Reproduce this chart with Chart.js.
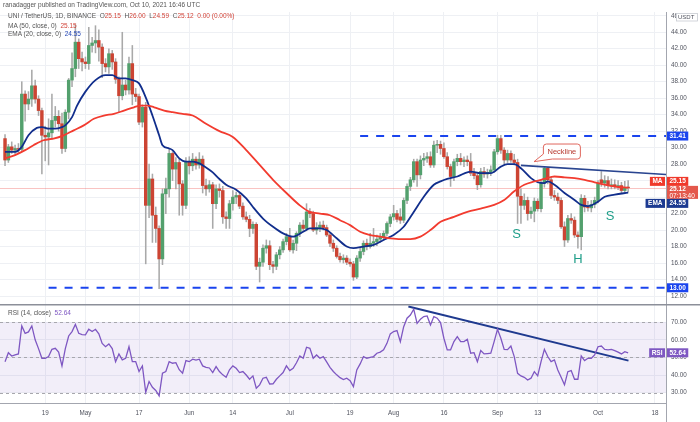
<!DOCTYPE html>
<html><head><meta charset="utf-8">
<script src="https://cdn.jsdelivr.net/npm/chart.js@4.4.0/dist/chart.umd.min.js"></script>
<style>
body{margin:0;background:#fff;width:700px;height:422px;overflow:hidden;position:relative;font-family:'Liberation Sans',Arial,sans-serif;}
#c1{position:absolute;left:0;top:0;}
#c2{position:absolute;left:0;top:304px;}
.t{position:absolute;font-size:6.5px;color:#555;white-space:nowrap;line-height:1;}
.r{color:#d2453a;} .b{color:#2346b5;} .p{color:#7e57c2;}
</style></head><body>
<canvas id="c1" width="700" height="305"></canvas>
<canvas id="c2" width="700" height="118"></canvas>
<div class="t" style="left:3px;top:1.5px">ranadagger published on TradingView.com, Oct 10, 2021 16:46 UTC</div>
<div class="t" style="left:8px;top:12.5px">UNI / TetherUS, 1D, BINANCE&nbsp; O<span class="r">25.15</span>&nbsp; H<span class="r">26.00</span>&nbsp; L<span class="r">24.59</span>&nbsp; C<span class="r">25.12</span>&nbsp; <span class="r">0.00 (0.00%)</span></div>
<div class="t" style="left:8px;top:22.5px">MA (50, close, 0)&nbsp; <span class="r">25.15</span></div>
<div class="t" style="left:8px;top:31px">EMA (20, close, 0)&nbsp; <span class="b">24.55</span></div>
<div class="t" style="left:8px;top:310px">RSI (14, close)&nbsp; <span class="p">52.64</span></div>
<script>
// ---- data (day index 0 = 2021-04-07) ----
const opens  = [31.1,28.5,30.1,29.7,29.9,29.8,36.5,35.3,35.9,37.5,35.9,34.5,31.5,31.3,31.8,33.3,33.8,32.9,29.9,34.3,38.2,39.6,42.8,40.8,40.4,40.2,42.4,42.7,43.0,42.2,40.2,39.8,41.4,40.4,38.3,36.3,37.6,37.0,40.2,36.5,36.2,33.1,34.9,23.0,26.2,21.8,20.2,16.5,24.4,25.0,29.3,27.4,28.2,25.6,23.0,28.3,27.8,28.6,27.9,28.6,25.4,25.0,25.5,23.2,25.0,24.8,21.6,21.4,23.2,24.0,24.2,22.9,21.6,21.3,20.2,20.7,15.6,16.1,17.8,18.1,15.8,15.6,17.0,17.6,18.6,19.2,17.6,18.4,19.6,20.6,20.2,22.2,22.0,20.0,20.3,20.6,20.3,19.4,18.4,17.8,16.8,16.4,16.6,16.1,15.9,14.3,16.6,17.4,18.4,18.0,18.4,18.6,18.9,19.2,19.6,20.8,21.6,22.0,21.6,21.2,23.6,25.3,26.1,28.3,26.7,28.5,28.7,28.9,27.9,30.3,30.4,29.9,28.9,27.7,26.5,28.3,28.7,28.3,28.5,28.3,26.9,26.6,25.5,27.1,26.8,27.0,27.3,29.5,31.1,29.7,28.5,29.3,28.5,28.2,24.1,23.0,23.6,22.0,22.3,23.5,22.6,25.7,27.5,26.1,24.2,24.0,23.6,20.4,18.8,21.4,21.2,19.4,19.2,23.85,22.8,22.7,23.1,23.6,26.1,25.7,26.0,25.4,25.5,25.3,25.4,24.8,25.15];
const highs  = [31.6,30.4,30.7,30.3,30.5,38.0,36.9,36.8,39.4,38.2,36.3,34.8,32.6,33.5,36.5,35.0,34.5,34.2,34.6,38.4,41.5,44.9,43.2,41.6,41.0,44.6,43.4,44.8,44.3,42.6,40.8,42.0,41.8,40.8,38.6,44.0,38.2,41.0,42.4,37.2,36.5,35.2,35.5,28.0,26.8,22.8,20.5,25.0,26.3,29.9,29.5,28.8,28.6,26.0,28.8,28.9,29.3,28.9,29.4,29.0,26.2,26.0,25.8,25.5,25.6,25.3,22.2,23.6,24.8,24.6,24.5,23.3,22.2,21.8,21.0,20.9,16.6,18.2,18.8,18.7,16.2,17.3,18.0,18.9,19.6,20.2,18.8,19.8,20.9,21.2,23.2,22.6,22.3,20.9,21.0,21.1,20.6,19.7,18.8,18.1,17.2,17.0,16.9,16.5,16.2,16.9,17.8,18.7,18.9,19.6,20.2,19.4,19.6,19.9,21.0,21.9,23.0,22.4,22.6,23.9,25.6,26.4,28.6,28.6,29.0,29.3,29.4,29.5,30.8,30.9,30.8,30.6,29.4,28.0,28.6,29.2,29.3,28.9,29.0,29.3,27.5,27.0,27.5,27.6,27.4,27.8,29.8,31.5,31.5,30.0,29.7,29.6,29.2,28.6,25.0,24.4,24.0,22.8,23.9,23.8,26.0,27.6,27.6,26.4,24.8,24.5,23.9,21.0,21.8,22.0,21.6,19.8,24.3,24.2,23.5,23.6,24.0,26.0,27.1,26.6,26.5,26.2,26.1,26.0,25.8,25.9,26.00];
const lows   = [27.8,28.2,29.3,29.2,29.4,29.5,33.2,34.6,35.0,35.4,33.9,26.8,28.4,27.9,31.0,32.5,32.0,29.3,29.5,33.5,37.4,38.6,39.6,39.3,39.6,39.5,41.6,41.5,40.5,38.5,39.2,39.0,39.5,37.8,34.3,35.8,36.4,36.5,35.2,35.6,32.8,32.5,15.9,21.5,18.5,18.5,12.9,15.8,22.0,24.0,26.0,25.0,21.8,21.8,22.6,26.8,27.2,27.4,27.5,24.5,24.2,24.6,20.2,22.6,24.0,20.8,20.2,20.2,22.4,23.2,22.6,21.3,21.0,19.2,19.6,15.2,13.7,15.6,17.2,15.2,14.8,15.2,16.5,17.3,18.2,17.4,17.2,17.5,19.2,19.8,19.9,21.5,19.8,19.5,19.8,20.0,19.2,18.0,17.4,16.6,16.1,16.0,15.8,15.6,13.9,14.1,16.2,17.0,17.6,17.8,18.0,18.1,18.5,18.8,19.3,20.4,21.2,21.0,20.8,20.9,23.2,24.8,25.8,25.3,26.2,27.8,28.2,27.6,27.6,29.4,29.2,28.7,27.4,25.3,26.0,27.8,27.9,27.7,27.8,26.6,26.2,24.9,25.2,26.4,26.3,26.6,27.0,29.2,29.3,28.0,28.2,28.2,27.9,20.8,20.8,22.5,21.2,21.4,21.0,22.3,22.2,25.2,25.6,23.8,23.6,23.2,20.2,18.0,18.5,20.8,19.1,17.8,17.6,22.2,22.3,22.2,22.7,23.3,25.3,25.2,25.0,25.0,25.0,24.9,24.5,24.6,24.59];
const closes = [28.5,30.1,29.7,29.9,29.8,36.5,35.3,35.9,37.5,35.9,34.5,31.5,31.3,31.8,33.3,33.8,32.9,29.9,34.3,38.2,39.6,42.8,40.8,40.4,40.2,42.4,42.7,43.0,42.2,40.2,39.8,41.4,40.4,38.3,36.3,37.6,37.0,40.2,36.5,36.2,33.1,34.9,23.0,26.2,21.8,20.2,16.5,24.4,25.0,29.3,27.4,28.2,25.6,23.0,28.3,27.8,28.6,27.9,28.6,25.4,25.0,25.5,23.2,25.0,24.8,21.6,21.4,23.2,24.0,24.2,22.9,21.6,21.3,20.2,20.7,15.6,16.1,17.8,18.1,15.8,15.6,17.0,17.6,18.6,19.2,17.6,18.4,19.6,20.6,20.2,22.2,22.0,20.0,20.3,20.6,20.3,19.4,18.4,17.8,16.8,16.4,16.6,16.1,15.9,14.3,16.6,17.4,18.4,18.0,18.4,18.6,18.9,19.2,19.6,20.8,21.6,22.0,21.3,21.2,23.6,25.3,26.1,28.3,26.7,28.5,28.7,28.9,27.9,30.3,30.4,29.9,28.9,27.7,26.5,28.3,28.7,28.3,28.5,28.3,26.9,26.6,25.5,27.1,26.8,27.0,27.3,29.5,31.1,29.7,28.5,29.3,28.5,28.2,24.1,23.0,23.6,22.0,22.3,23.5,22.6,25.7,27.5,26.1,24.2,24.0,23.6,20.4,18.8,21.4,21.2,19.4,19.2,23.85,22.8,22.7,23.1,23.6,25.7,25.7,26.0,25.4,25.5,25.3,25.4,24.8,25.15,25.12];

const maDays    = [0,3,6,8.5,11.5,14.5,17.5,20.5,23.5,26.5,29.5,32.5,35.5,38.5,40.5,42.5,44.5,47.5,50,53,56,60,64,68,72,76,80,84,88,91,94,97,100,103,106,109,112,115,118,121,124,127,130,134,138,142,146,149,152,155,158,161,164,167,170,173,176,179,182,186];
const maValues  = [28.7,29.1,29.7,30.3,30.9,31.1,31.5,32.1,32.7,33.5,33.9,34.1,34.5,34.9,35.1,35.1,34.9,34.5,34.3,34.1,33.9,32.9,32.0,31.3,29.7,27.9,26.1,24.5,23.0,22.2,22.0,21.8,21.2,20.6,19.8,19.4,19.2,19.0,18.9,18.9,19.2,20.0,21.0,21.6,22.2,22.6,23.05,23.65,24.7,25.5,25.9,26.2,26.5,26.4,26.3,26.1,25.8,25.5,25.27,25.15];
const emaDays   = [0,3,5,7,9.5,11,13,15,17,18,20,21.5,24,27,30,32,34,36,38,40,42,44,46,47,49,50,52,54,56,58,60,62,64,66,69,72,74,77,80,83,86,89,91,94,96,99,102,104,107,110,113,116,119,122,125,128,130,132,135,139,142,145,148,150,152,154,157,159,161,162,164,167,170,172,174,177,179,182,186];
const emaValues = [29.5,29.5,30.1,31.5,32.4,32.5,32.3,32.3,32.5,32.7,33.7,35.1,36.8,38.2,38.8,38.8,38.4,38.4,38.2,37.8,36.1,33.9,31.5,30.3,29.9,29.7,28.7,28.3,28.3,28.1,27.6,27.0,26.2,25.5,24.9,23.85,22.8,21.4,20.4,19.6,19.2,19.8,20.2,20.2,20.0,19.0,18.0,17.8,18.0,18.2,18.8,19.4,20.4,22.2,24.05,25.5,25.9,26.2,26.5,27.1,26.9,26.9,27.7,28.0,28.0,27.5,26.3,25.8,25.7,25.9,25.5,24.5,23.65,23.05,22.9,23.45,24.05,24.3,24.55];

const rsiValues = [47.6,52.7,50.8,51.5,52,67.9,63.7,64.5,67.9,60,55,49.5,49.5,50.5,54.6,55.2,53,45.2,55,62.2,64.7,68.8,63.7,63,62.8,66,64.7,66,63.4,58,56.1,57.7,55,47.6,52,48.6,49.5,56.1,47.6,47.6,42,45.2,30.2,36.3,33,31.2,28.1,41,42,47.6,46.7,47,43,41,48.2,47.6,49,48.5,49,45.2,44.4,44,41.4,44.8,42,40.1,38.7,43,45.2,43.8,41.4,42,40,37.6,39.5,32.5,34.4,38.2,38.7,34.9,35,37.6,39.5,41.4,45.2,42.5,43.8,47,50.8,49.5,55.8,55.2,49.5,51.4,49.5,50.5,47.5,44.4,42,40.1,38.5,37.4,38.2,36.8,33.4,42.9,46.3,50.5,49.5,50,50.5,52.4,53,54.3,58,63.4,64.7,65.3,59,67.5,72.3,74.1,77.4,69.4,71.7,73.2,73.6,68.5,73.2,72.3,69.8,60.9,54.3,54.3,59,61.8,59,59,60.3,52.4,52.7,47.6,53.9,52,52.2,52.4,59,66,60.9,54.6,54.4,56.5,50.5,41,39.5,38.7,37.2,38.2,41.9,39.5,47.6,54.6,50.5,47.6,48.6,42.9,38.7,34.4,41.9,42.5,37.6,37.6,50.8,48.2,49.5,49.5,51.4,56.1,56.5,54.6,54.3,54.6,53.9,53,52,53.3,52.64];

const tickDays   = [12,24,40,55,68,85,103,116,131,147,159,177,194];
const tickLabels = ['19','May','17','Jun','14','Jul','19','Aug','16','Sep','13','Oct','18'];
const priceTicks = [12,14,16,18,20,22,24,26,28,30,32,34,36,38,40,42,44,46];
const rsiTicks   = [30,40,50,60,70];
const rsiBand    = [70,50,30];

const resistance = 31.41, support = 13.00;
const resistanceDays = [106,197.3], supportDays = [13,197.3];
const necklineDays = [154,197.3], necklinePrices = [27.85,26.75];
const rsiTrendDays = [120.4,186.1], rsiTrendValues = [78.9,48.2];
const patternLabels = ['S','H','S'], patternDays = [152.7,171,180.6], patternPrices = [19.5,16.45,21.6];
const calloutDay = 160.7, calloutPrice = 30.44, calloutTipDay = 157.9, calloutTipPrice = 28.3;
const lastClose = 25.12, lastMA = 25.15, lastEMA = 24.55, lastRSI = 52.64;

const days = closes.map((_, i) => i);
const X_MIN = -1.5, X_MAX = 197.3;
const GRID = '#eef0f4', AXIS = '#a3a6af', TXT = '#50535e';
const FONT = 'Liberation Sans, Arial, sans-serif';
const UP = '#53a06d', DOWN = '#cc4433';

function fixTicks(list){ return s => { s.ticks = list.map(v => ({value: v})); }; }
function xLabel(v){ const k = tickDays.indexOf(v); return k >= 0 ? tickLabels[k] : ''; }
const noPad = s => { s.paddingTop = 0; s.paddingBottom = 0; s.paddingLeft = 0; s.paddingRight = 0; };

function badge(ctx, x, yc, h, bg, lines, align){
  ctx.save();
  ctx.font = 'bold 6.5px ' + FONT;
  let w = Math.max(...lines.map(l => ctx.measureText(l).width)) + 5;
  const bx = align === 'right' ? x - w : x;
  ctx.fillStyle = bg;
  ctx.fillRect(bx, yc - h/2, w, h);
  ctx.fillStyle = '#fff';
  ctx.textAlign = 'left'; ctx.textBaseline = 'middle';
  const lh = h / lines.length;
  lines.forEach((l, k) => {
    if (k > 0) ctx.font = '6.5px ' + FONT;
    ctx.fillText(l, bx + 2.5, yc - h/2 + lh*(k+0.5) + 0.3);
  });
  ctx.restore();
}

const pricePlugin = {
  id: 'pricePane',
  beforeDatasetsDraw(chart){
    const {ctx, chartArea:a, scales:{y}} = chart;
    const py = Math.round(y.getPixelForValue(lastClose)) + 0.5;
    ctx.save(); ctx.strokeStyle = 'rgba(239,83,80,0.35)'; ctx.lineWidth = 1;
    ctx.beginPath(); ctx.moveTo(a.left, py); ctx.lineTo(a.right, py); ctx.stroke(); ctx.restore();
  },
  afterDatasetsDraw(chart){
    const {ctx, scales:{x, y}} = chart;
    ctx.save();
    ctx.font = '13px ' + FONT; ctx.fillStyle = '#1f9e89';
    ctx.textAlign = 'center'; ctx.textBaseline = 'middle';
    patternLabels.forEach((t, k) => ctx.fillText(t, x.getPixelForValue(patternDays[k]), y.getPixelForValue(patternPrices[k])));
    const bx = x.getPixelForValue(calloutDay), by = y.getPixelForValue(calloutPrice);
    const tx = x.getPixelForValue(calloutTipDay), ty = y.getPixelForValue(calloutTipPrice);
    const w = 37, h = 15, r = 3;
    ctx.beginPath();
    ctx.moveTo(bx + r, by);
    ctx.lineTo(bx + w - r, by); ctx.arcTo(bx + w, by, bx + w, by + r, r);
    ctx.lineTo(bx + w, by + h - r); ctx.arcTo(bx + w, by + h, bx + w - r, by + h, r);
    ctx.lineTo(bx + 9, by + h);
    ctx.lineTo(tx, ty);
    ctx.lineTo(bx, by + h - 5);
    ctx.lineTo(bx, by + r); ctx.arcTo(bx, by, bx + r, by, r);
    ctx.closePath();
    ctx.fillStyle = '#fff'; ctx.fill();
    ctx.strokeStyle = '#e0675d'; ctx.lineWidth = 1; ctx.stroke();
    ctx.font = '7.5px ' + FONT; ctx.fillStyle = '#b73a30';
    ctx.fillText('Neckline', bx + w/2, by + h/2 + 0.5);
    ctx.restore();
  },
  afterDraw(chart){
    const {ctx, chartArea:a, scales:{y}} = chart;
    const ax = a.right + 1;
    ctx.save();
    ctx.fillStyle = '#fff'; ctx.fillRect(676, a.top + 1, 23, 8);
    ctx.strokeStyle = '#c8cbd2'; ctx.lineWidth = 0.8; ctx.strokeRect(676.5, a.top + 1.5, 21, 7.5);
    ctx.font = '6px ' + FONT; ctx.fillStyle = TXT; ctx.textBaseline = 'middle';
    ctx.fillText('USDT', 678, a.top + 5.5);
    ctx.restore();
    badge(ctx, ax, y.getPixelForValue(resistance), 9, '#1a44ee', [resistance.toFixed(2)]);
    badge(ctx, ax, y.getPixelForValue(support), 9, '#1a44ee', [support.toFixed(2)]);
    const pTop = y.getPixelForValue(lastClose) - 2;
    badge(ctx, ax, pTop + 6.5, 13, '#e4584c', [lastClose.toFixed(2), '07:13:40']);
    badge(ctx, ax, pTop - 4.5, 9, '#f0392b', [lastMA.toFixed(2)]);
    badge(ctx, a.right - 1, pTop - 4.5, 9, '#f0392b', ['MA'], 'right');
    badge(ctx, ax, pTop + 17.5, 9, '#1c3a91', [lastEMA.toFixed(2)]);
    badge(ctx, a.right - 1, pTop + 17.5, 9, '#1c3a91', ['EMA'], 'right');
  }
};

const xScaleBase = {
  type: 'linear', min: X_MIN, max: X_MAX, offset: false,
  afterBuildTicks: fixTicks(tickDays),
  grid: {color: GRID, offset: false, drawTicks: false},
};
const yFit = s => { s.width = 34; noPad(s); };

new Chart(document.getElementById('c1'), {
  type: 'bar',
  data: {
    datasets: [
      {type:'line', data: maDays.map((d,k)=>({x:d, y:maValues[k]})), borderColor:'#f23b2f', borderWidth:1.8, pointRadius:0, cubicInterpolationMode:'monotone', order:0},
      {type:'line', data: emaDays.map((d,k)=>({x:d, y:emaValues[k]})), borderColor:'#112e8c', borderWidth:1.8, pointRadius:0, cubicInterpolationMode:'monotone', order:0},
      {type:'line', data: necklineDays.map((d,k)=>({x:d, y:necklinePrices[k]})), borderColor:'#2a4590', borderWidth:1.6, pointRadius:0, order:0},
      {type:'line', data: resistanceDays.map(d=>({x:d, y:resistance})), borderColor:'#1a44ee', borderWidth:2, borderDash:[8,8], pointRadius:0, order:1},
      {type:'line', data: supportDays.map(d=>({x:d, y:support})), borderColor:'#1a44ee', borderWidth:2, borderDash:[8,8], pointRadius:0, order:1},
      {type:'bar', data: days.map(i=>({x:i, y:[opens[i], closes[i]]})), backgroundColor: days.map(i=> closes[i] >= opens[i] ? UP : DOWN), barThickness:2.8, minBarLength:0.8, grouped:false, order:2},
      {type:'bar', data: days.map(i=>({x:i, y:[lows[i], highs[i]]})), backgroundColor:'#a9a9a9', barThickness:0.9, grouped:false, order:3}
    ]
  },
  options: {
    responsive:false, animation:false, devicePixelRatio:1,
    layout:{padding:{top:12, bottom:1, left:0, right:0}},
    plugins:{legend:{display:false}, tooltip:{enabled:false}},
    scales:{
      x: Object.assign({}, xScaleBase, {ticks:{display:false}, border:{display:false}, afterFit: s => { s.height = 0; noPad(s); }}),
      y: {type:'linear', position:'right', min:11.03, max:46.46, beginAtZero:false,
          afterBuildTicks: fixTicks(priceTicks), afterFit: yFit,
          grid:{color:GRID, drawTicks:false}, border:{color:AXIS},
          ticks:{autoSkip:false, padding:5, color:TXT, font:{family:FONT, size:6.3}, callback:v=>v.toFixed(2)}}
    }
  },
  plugins:[pricePlugin]
});

const rsiPlugin = {
  id:'rsiPane',
  beforeDatasetsDraw(chart){
    const {ctx, chartArea:a, scales:{y}} = chart;
    const t = y.getPixelForValue(rsiBand[0]), b = y.getPixelForValue(rsiBand[2]);
    ctx.save();
    ctx.fillStyle = 'rgba(126,87,194,0.10)';
    ctx.fillRect(a.left, t, a.right - a.left, b - t);
    ctx.strokeStyle = '#a7a7ad'; ctx.lineWidth = 1; ctx.setLineDash([3,3]);
    rsiBand.forEach(v => { const p = Math.round(y.getPixelForValue(v)) + 0.5; ctx.beginPath(); ctx.moveTo(a.left, p); ctx.lineTo(a.right, p); ctx.stroke(); });
    ctx.restore();
  },
  afterDraw(chart){
    const {ctx, chartArea:a, scales:{y}} = chart;
    ctx.save();
    ctx.strokeStyle = '#8c8f99'; ctx.lineWidth = 1.5;
    ctx.beginPath(); ctx.moveTo(0, 0.75); ctx.lineTo(700, 0.75); ctx.stroke();
    ctx.strokeStyle = AXIS; ctx.lineWidth = 1;
    ctx.beginPath(); ctx.moveTo(a.right + 0.5, a.bottom); ctx.lineTo(a.right + 0.5, chart.height); ctx.stroke();
    ctx.restore();
    const py = y.getPixelForValue(lastRSI);
    badge(ctx, a.right + 1, py, 9, '#7e57c2', [lastRSI.toFixed(2)]);
    badge(ctx, a.right - 1, py, 9, '#7e57c2', ['RSI'], 'right');
  }
};

new Chart(document.getElementById('c2'), {
  type:'line',
  data:{datasets:[
    {data: days.map(i=>({x:i, y:rsiValues[i]})), borderColor:'#7e57c2', borderWidth:1.3, pointRadius:0, tension:0},
    {data: rsiTrendDays.map((d,k)=>({x:d, y:rsiTrendValues[k]})), borderColor:'#1f3a8f', borderWidth:2, pointRadius:0}
  ]},
  options:{
    responsive:false, animation:false, devicePixelRatio:1,
    layout:{padding:{top:1, bottom:0, left:0, right:0}},
    plugins:{legend:{display:false}, tooltip:{enabled:false}},
    scales:{
      x: Object.assign({}, xScaleBase, {
        afterFit: s => { s.height = 19; noPad(s); },
        border:{display:true, color:AXIS},
        ticks:{autoSkip:false, maxRotation:0, padding:6, color:TXT, font:{family:FONT, size:6.3}, callback:xLabel}}),
      y: {type:'linear', position:'right', min:24.1, max:79.8,
          afterBuildTicks: fixTicks(rsiTicks), afterFit: yFit,
          grid:{color:GRID, drawTicks:false}, border:{color:AXIS},
          ticks:{autoSkip:false, padding:5, color:TXT, font:{family:FONT, size:6.3}, callback:v=>v.toFixed(2)}}
    }
  },
  plugins:[rsiPlugin]
});
</script>
</body></html>
